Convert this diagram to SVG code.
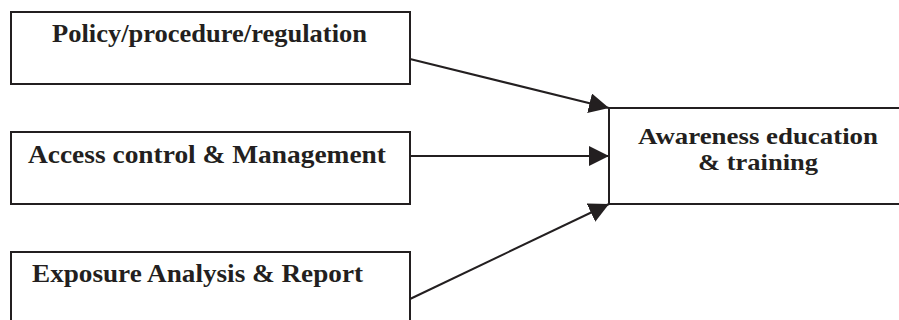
<svg xmlns="http://www.w3.org/2000/svg" width="899" height="320" viewBox="0 0 899 320">
<style>
.box{fill:#fff;stroke:#231f20;stroke-width:2}
.t{font-family:"Liberation Serif",serif;font-weight:bold;font-size:26px;fill:#231f20}
.s{font-size:23px}
.c{stroke:#231f20;stroke-width:2;fill:none;marker-end:url(#ah)}
</style>
<defs>
<marker id="ah" viewBox="0 0 20 20" refX="20" refY="10" markerWidth="20" markerHeight="20" markerUnits="userSpaceOnUse" orient="auto">
<path d="M0,0 L20,10 L0,20 Z" fill="#231f20"/>
</marker>
</defs>
<rect width="899" height="320" fill="#fff"/>
<g id="policy">
<rect class="box" x="11" y="12" width="399" height="72"/>
<text class="t" x="52" y="42" textLength="315" lengthAdjust="spacingAndGlyphs">Policy/procedure/regulation</text>
</g>
<g id="access">
<rect class="box" x="11" y="132" width="399" height="72"/>
<text class="t" x="28" y="163" textLength="358" lengthAdjust="spacingAndGlyphs">Access control &amp; Management</text>
</g>
<g id="exposure">
<rect class="box" x="11" y="252" width="399" height="72"/>
<text class="t" x="32" y="282" textLength="331" lengthAdjust="spacingAndGlyphs">Exposure Analysis &amp; Report</text>
</g>
<g id="awareness">
<rect class="box" x="609" y="108" width="300" height="96"/>
<text class="t s" x="638" y="144" textLength="240" lengthAdjust="spacingAndGlyphs">Awareness education</text>
<text class="t s" x="698" y="170" textLength="120" lengthAdjust="spacingAndGlyphs">&amp; training</text>
</g>
<g id="connectors">
<line class="c" x1="410" y1="59" x2="609" y2="108"/>
<line class="c" x1="410" y1="156" x2="609" y2="156"/>
<line class="c" x1="410" y1="299" x2="609" y2="204"/>
</g>
</svg>
